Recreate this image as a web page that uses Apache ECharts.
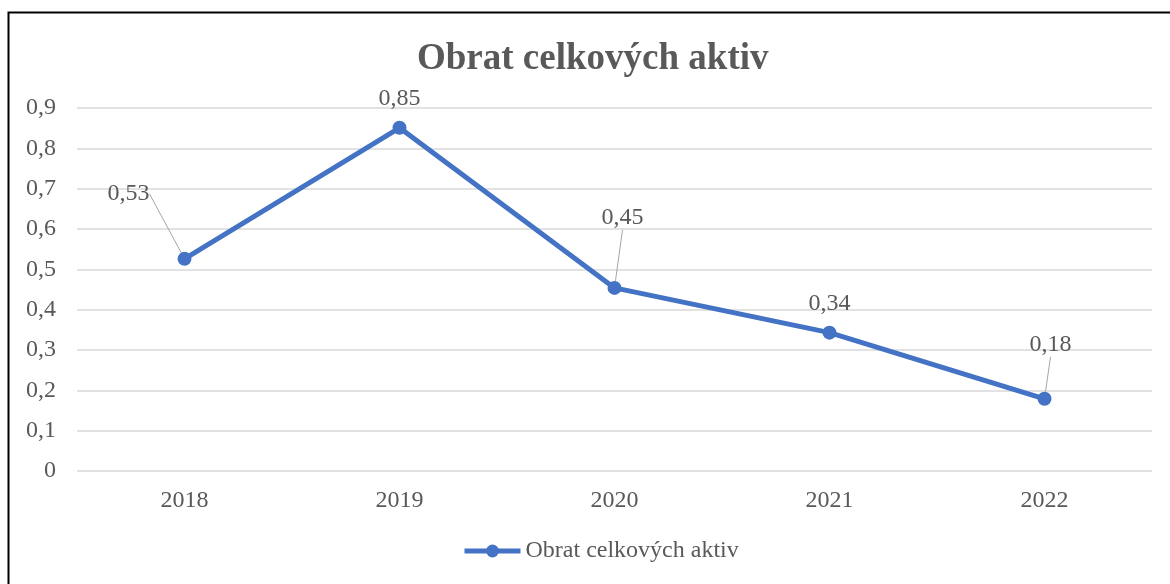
<!DOCTYPE html>
<html>
<head>
<meta charset="utf-8">
<script src="https://cdn.jsdelivr.net/npm/echarts@6/dist/echarts.min.js"></script>
<style>
  html, body { margin: 0; padding: 0; background: #fff; overflow: hidden; }
  #chart { width: 1170px; height: 584px; }
</style>
</head>
<body>
<div id="chart"></div>
<script>
// data
const years = ['2018', '2019', '2020', '2021', '2022'];
const turnover = [0.526, 0.851, 0.454, 0.343, 0.179];
const yTicks = [0, 0.1, 0.2, 0.3, 0.4, 0.5, 0.6, 0.7, 0.8, 0.9];
const seriesName = 'Obrat celkových aktiv';

// label shifts (some labels sit away from the point with a leader line)
const labelShift = [[-56, -36], [0, 0], [8, -41], [0, 0], [6, -25]];
const hasLeader = [true, false, true, false, true];

const fmt = v => (v === 0 ? '0' : v.toFixed(2).replace('.', ','));
const grey = '#595959';
const blue = '#4472c4';
const font = '"Liberation Serif", "Times New Roman", serif';

const chart = echarts.init(document.getElementById('chart'));

const option = {
  backgroundColor: '#fff',
  textStyle: { fontFamily: font },
  title: {
    text: seriesName,
    left: 412,
    top: 36,
    textStyle: { color: grey, fontSize: 37, fontWeight: 'bold', fontFamily: font }
  },
  legend: {
    bottom: 16,
    left: 457,
    itemWidth: 56,
    itemHeight: 16,
    itemGap: 4,
    lineStyle: { width: 5 },
    textStyle: { color: grey, fontSize: 24, fontFamily: font },
    data: [seriesName]
  },
  grid: { left: 77, right: 18, top: 108, bottom: 113 },
  xAxis: {
    type: 'category',
    data: years,
    boundaryGap: true,
    axisLine: { show: false },
    axisTick: { show: false },
    axisLabel: { color: grey, fontSize: 24, margin: 18, fontFamily: font }
  },
  yAxis: {
    type: 'value',
    min: yTicks[0],
    max: yTicks[yTicks.length - 1],
    interval: 0.1,
    axisLine: { show: false },
    axisTick: { show: false },
    splitLine: { lineStyle: { color: '#d9d9d9', width: 1.5 } },
    axisLabel: {
      color: grey, fontSize: 24, margin: 21, fontFamily: font,
      formatter: v => (Math.abs(v) < 1e-9 ? '0' : v.toFixed(1).replace('.', ','))
    }
  },
  series: [
    {
      name: seriesName,
      type: 'line',
      data: turnover.map((v, i) => ({
        value: v,
        labelLine: { show: hasLeader[i] }
      })),
      symbol: 'circle',
      symbolSize: 14,
      lineStyle: { color: blue, width: 5 },
      itemStyle: { color: blue },
      label: {
        show: true,
        position: 'top',
        distance: 10,
        color: grey,
        fontSize: 24,
        fontFamily: font,
        formatter: p => fmt(p.value)
      },
      labelLine: {
        show: true,
        lineStyle: { color: '#a6a6a6', width: 1 }
      },
      labelLayout: p => ({ dx: labelShift[p.dataIndex][0], dy: labelShift[p.dataIndex][1] }),
      emphasis: { disabled: true }
    }
  ],
  graphic: [
    {
      type: 'rect',
      left: 6,
      top: 10,
      shape: { width: 1200, height: 620 },
      style: { fill: 'none', stroke: '#000', lineWidth: 2 },
      silent: true
    }
  ]
};

chart.setOption(option);
</script>
</body>
</html>
